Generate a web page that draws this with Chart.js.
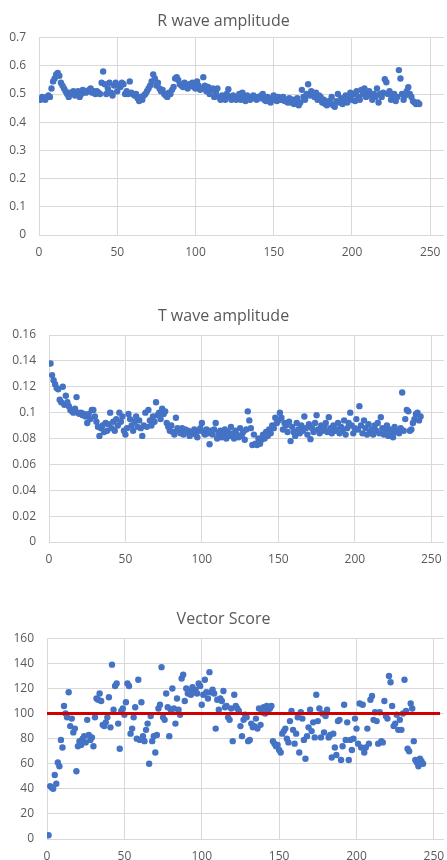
<!DOCTYPE html>
<html><head><meta charset="utf-8">
<script src="https://cdn.jsdelivr.net/npm/chart.js@4.4.1/dist/chart.umd.min.js"></script>
<style>
html,body{margin:0;padding:0;background:#fff;overflow:hidden;width:447px;height:860px;}
canvas{position:absolute;left:0;}
</style></head><body>
<canvas id="c1" width="447" height="265" style="top:0px"></canvas>
<canvas id="c2" width="447" height="282" style="top:290px"></canvas>
<canvas id="c3" width="447" height="280" style="top:590px"></canvas>
<script>
const sampleIndex = [
1,2,3,4,5,6,7,8,9,10,11,12,13,14,15,16,17,18,19,20,
21,22,23,24,25,26,27,28,29,30,31,32,33,34,35,36,37,38,39,40,
41,42,43,44,45,46,47,48,49,50,51,52,53,54,55,56,57,58,59,60,
61,62,63,64,65,66,67,68,69,70,71,72,73,74,75,76,77,78,79,80,
81,82,83,84,85,86,87,88,89,90,91,92,93,94,95,96,97,98,99,100,
101,102,103,104,105,106,107,108,109,110,111,112,113,114,115,116,117,118,119,120,
121,122,123,124,125,126,127,128,129,130,131,132,133,134,135,136,137,138,139,140,
141,142,143,144,145,146,147,148,149,150,151,152,153,154,155,156,157,158,159,160,
161,162,163,164,165,166,167,168,169,170,171,172,173,174,175,176,177,178,179,180,
181,182,183,184,185,186,187,188,189,190,191,192,193,194,195,196,197,198,199,200,
201,202,203,204,205,206,207,208,209,210,211,212,213,214,215,216,217,218,219,220,
221,222,223,224,225,226,227,228,229,230,231,232,233,234,235,236,237,238,239,240,
241,242,243];

const rWaveAmplitude = [
0.48,0.49,0.485,0.48,0.49,0.495,0.49,0.52,0.545,0.555,
0.57,0.575,0.565,0.54,0.53,0.52,0.51,0.50,0.49,0.505,
0.50,0.51,0.495,0.505,0.51,0.49,0.50,0.515,0.51,0.505,
0.51,0.515,0.52,0.505,0.51,0.50,0.51,0.505,0.50,0.54,
0.58,0.535,0.50,0.52,0.54,0.505,0.495,0.53,0.54,0.51,
0.53,0.525,0.54,0.535,0.50,0.51,0.50,0.545,0.505,0.50,
0.495,0.50,0.485,0.475,0.49,0.48,0.495,0.50,0.51,0.52,
0.53,0.545,0.57,0.555,0.53,0.54,0.52,0.51,0.515,0.50,
0.495,0.49,0.505,0.50,0.515,0.525,0.555,0.56,0.55,0.535,
0.53,0.525,0.54,0.53,0.52,0.535,0.53,0.54,0.525,0.52,
0.545,0.53,0.515,0.52,0.56,0.53,0.51,0.525,0.50,0.515,
0.52,0.49,0.505,0.52,0.49,0.48,0.495,0.485,0.48,0.50,
0.517,0.49,0.48,0.495,0.485,0.48,0.49,0.50,0.48,0.505,
0.49,0.475,0.495,0.49,0.48,0.485,0.495,0.49,0.48,0.49,
0.485,0.495,0.50,0.48,0.475,0.49,0.485,0.47,0.48,0.495,
0.485,0.475,0.49,0.48,0.48,0.49,0.475,0.48,0.47,0.485,
0.47,0.48,0.465,0.475,0.485,0.46,0.47,0.515,0.49,0.48,
0.50,0.535,0.495,0.51,0.50,0.49,0.505,0.48,0.495,0.49,
0.47,0.48,0.465,0.46,0.475,0.47,0.49,0.46,0.455,0.475,
0.50,0.47,0.485,0.465,0.48,0.495,0.47,0.49,0.505,0.48,
0.50,0.475,0.51,0.49,0.48,0.515,0.50,0.52,0.49,0.505,
0.51,0.495,0.48,0.50,0.49,0.52,0.47,0.50,0.49,0.505,
0.553,0.542,0.50,0.51,0.48,0.495,0.50,0.475,0.49,0.585,
0.555,0.50,0.48,0.495,0.51,0.524,0.50,0.49,0.475,0.47,
0.465,0.47,0.465];

const tWaveAmplitude = [
0.138,0.129,0.125,0.122,0.119,0.118,0.110,0.108,0.120,0.106,
0.113,0.108,0.105,0.102,0.101,0.100,0.103,0.112,0.100,0.099,
0.100,0.098,0.099,0.097,0.092,0.099,0.095,0.102,0.102,0.097,
0.093,0.089,0.082,0.088,0.090,0.085,0.092,0.086,0.091,0.100,
0.088,0.093,0.086,0.095,0.090,0.100,0.093,0.097,0.086,0.083,
0.088,0.099,0.095,0.090,0.086,0.093,0.097,0.089,0.094,0.088,
0.082,0.090,0.100,0.089,0.102,0.094,0.090,0.097,0.093,0.108,
0.098,0.100,0.095,0.103,0.099,0.101,0.092,0.089,0.086,0.090,
0.085,0.083,0.096,0.088,0.086,0.084,0.088,0.083,0.087,0.085,
0.086,0.082,0.085,0.084,0.087,0.083,0.081,0.086,0.088,0.092,
0.085,0.083,0.087,0.084,0.0755,0.086,0.083,0.087,0.092,0.080,
0.084,0.086,0.081,0.083,0.087,0.080,0.085,0.082,0.089,0.084,
0.080,0.086,0.083,0.081,0.088,0.082,0.085,0.079,0.087,0.101,
0.094,0.088,0.075,0.083,0.076,0.075,0.080,0.076,0.079,0.083,
0.080,0.085,0.082,0.087,0.084,0.090,0.088,0.096,0.092,0.094,
0.100,0.096,0.087,0.092,0.090,0.085,0.093,0.078,0.089,0.085,
0.082,0.092,0.087,0.084,0.090,0.086,0.097,0.088,0.083,0.091,
0.0795,0.088,0.085,0.092,0.098,0.087,0.084,0.090,0.086,0.089,
0.092,0.085,0.0965,0.088,0.084,0.090,0.086,0.087,0.092,0.084,
0.089,0.086,0.094,0.083,0.088,0.092,0.100,0.090,0.084,0.088,
0.095,0.087,0.105,0.090,0.084,0.094,0.088,0.083,0.091,0.085,
0.087,0.083,0.090,0.086,0.092,0.084,0.0965,0.088,0.083,0.086,
0.090,0.082,0.087,0.085,0.081,0.089,0.085,0.086,0.084,0.088,
0.1155,0.086,0.095,0.102,0.101,0.086,0.087,0.092,0.095,0.099,
0.100,0.094,0.097];

const vectorScore = [
3,42,41,40,51,44,61,58,79,73,
106,100,97,117,90,96,85,88,54,74,
78,75,80,82,77,95,83,79,81,74,
97,112,111,116,110,91,90,93,97,113,
89,139,103,122,124,92,72,102,104,99,
109,124,122,84,88,97,105,80,127,79,
109,82,78,87,92,60,98,78,82,69,
83,104,107,137,97,95,116,105,82,103,
120,104,92,112,103,99,128,131,110,120,
116,118,115,121,117,119,116,124,122,107,
115,127,117,112,133,117,119,116,88,111,
103,112,110,118,105,106,97,95,104,78,
115,106,104,102,90,82,95,99,97,78,
79,92,89,90,96,88,104,91,101,105,
100,106,103,104,106,78,76,74,75,71,
69,84,86,88,80,77,94,102,87,76,
84,97,69,101,96,79,64,82,89,103,
86,93,81,115,94,104,81,100,85,98,
103,81,83,65,84,73,67,94,95,63,
74,107,79,93,63,79,71,80,96,88,
76,108,73,107,69,73,88,76,111,114,
95,101,94,76,101,78,77,110,98,96,
130,125,106,90,92,99,87,95,87,100,
127,102,72,70,108,104,78,63,61,58,
64,62,60];

const xTickValues = [0, 50, 100, 150, 200, 250];
const rTickValues = [0, 0.1, 0.2, 0.3, 0.4, 0.5, 0.6, 0.7];
const tTickValues = [0, 0.02, 0.04, 0.06, 0.08, 0.1, 0.12, 0.14, 0.16];
const vTickValues = [0, 20, 40, 60, 80, 100, 120, 140, 160];
const vectorThreshold = 100;
const thresholdSpan = [0, 254];

const TEXT = '#595959';
const GRID = '#d9d9d9';
const FONT = "'Open Sans', 'Noto Sans', sans-serif";

function makeChart(id, o) {
  const pts = sampleIndex.map((x, i) => ({ x: x, y: o.values[i] }));
  const datasets = [{
    type: 'scatter', data: pts, backgroundColor: '#4472C4', borderWidth: 0,
    pointRadius: 3.2, pointHoverRadius: 3.2, order: 1
  }];
  if (o.threshold !== undefined) {
    datasets.push({
      type: 'line', data: thresholdSpan.map(x => ({ x: x, y: o.threshold })),
      borderColor: '#d00000', borderWidth: 3, pointRadius: 0, fill: false, order: 0
    });
  }
  return new Chart(document.getElementById(id), {
    type: 'scatter',
    data: { datasets },
    options: {
      responsive: false, animation: false, devicePixelRatio: 1,
      layout: { padding: 0 },
      plugins: {
        legend: { display: false }, tooltip: { enabled: false },
        title: {
          display: true, text: o.title, color: TEXT,
          font: { family: FONT, size: 16, weight: 'normal', lineHeight: 1.2 },
          padding: { top: o.pt, bottom: o.pb }
        }
      },
      scales: {
        x: {
          type: 'linear', min: 0, max: o.xMax,
          afterBuildTicks: s => { s.ticks = xTickValues.map(v => ({ value: v })); },
          afterFit: s => { s.height = o.xh; },
          grid: { color: GRID, lineWidth: 1, drawTicks: true, tickLength: 10, tickColor: 'rgba(0,0,0,0)' },
          border: { color: GRID, width: 1 },
          ticks: { padding: 0, color: TEXT, font: { family: FONT, size: 12 }, maxRotation: 0, autoSkip: false, callback: v => String(v) }
        },
        y: {
          type: 'linear', min: 0, max: o.yMax,
          afterBuildTicks: s => { s.ticks = o.yTicks.map(v => ({ value: v })); },
          afterFit: s => { s.width = o.yw; },
          grid: { color: GRID, lineWidth: 1, drawTicks: true, tickLength: 13, tickColor: 'rgba(0,0,0,0)' },
          border: { color: GRID, width: 1 },
          ticks: { padding: 0, color: TEXT, font: { family: FONT, size: 12 }, autoSkip: false, callback: v => String(v) }
        }
      }
    }
  });
}

makeChart('c1', { title: 'R wave amplitude', values: rWaveAmplitude, yMax: 0.7, yTicks: rTickValues,
  xMax: 258.7, yw: 39, xh: 30, pt: 11.4, pb: 7.1 });
makeChart('c2', { title: 'T wave amplitude', values: tWaveAmplitude, yMax: 0.16, yTicks: tTickValues,
  xMax: 258.2, yw: 49, xh: 30, pt: 16.4, pb: 9.4 });
makeChart('c3', { title: 'Vector Score', values: vectorScore, yMax: 160, yTicks: vTickValues,
  xMax: 256.4, yw: 47, xh: 31, pt: 19.4, pb: 9.7, threshold: vectorThreshold });
</script>
</body></html>
